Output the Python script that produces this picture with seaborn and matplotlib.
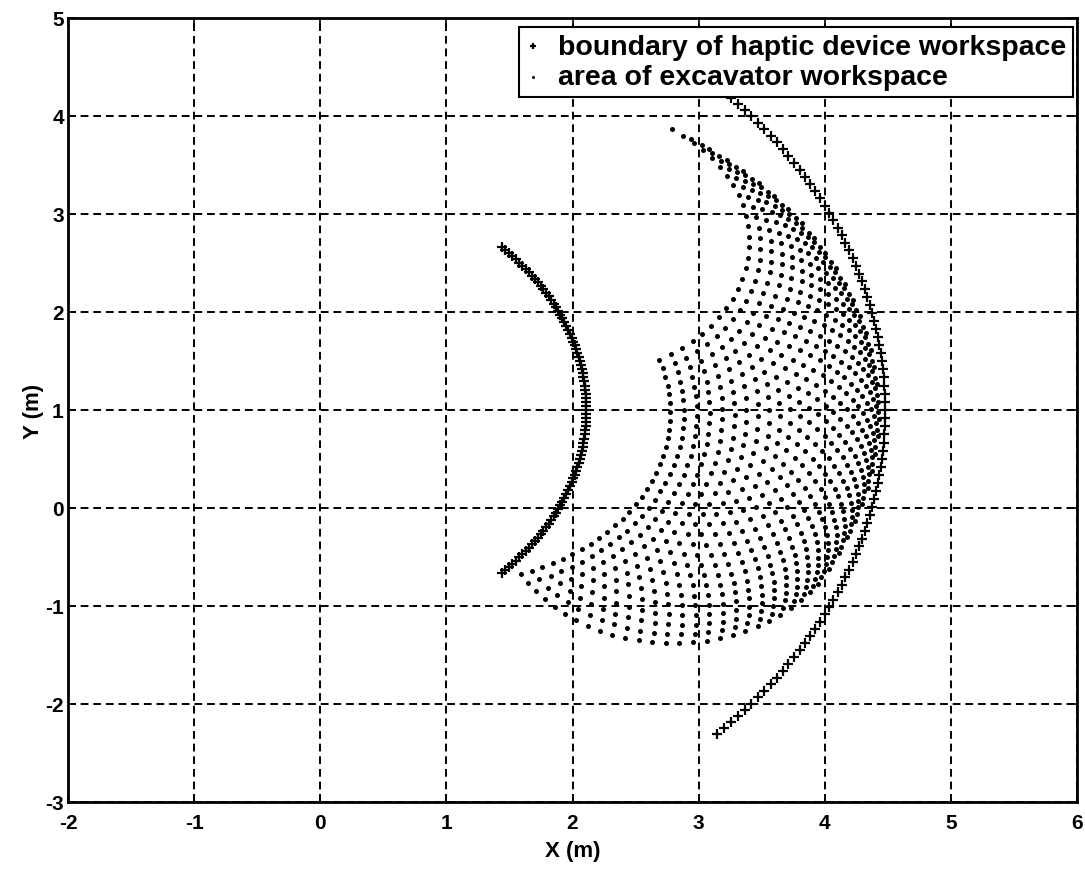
import numpy as np
import pandas as pd
import matplotlib
matplotlib.use("Agg")
import matplotlib.pyplot as plt
import seaborn as sns

# ---------------- data ----------------
# haptic device workspace boundary: two arcs about a common centre
haptic_center = (-0.28, 1.0)
haptic_inner_radius = 2.39
haptic_outer_radius = 4.76
haptic_angle_deg = [-44, -43, -42, -41, -40, -39, -38, -37, -36, -35, -34, -33,
                    -32, -31, -30, -29, -28, -27, -26, -25, -24, -23, -22, -21,
                    -20, -19, -18, -17, -16, -15, -14, -13, -12, -11, -10, -9,
                    -8, -7, -6, -5, -4, -3, -2, -1, 0, 1, 2, 3, 4, 5, 6, 7, 8,
                    9, 10, 11, 12, 13, 14, 15, 16, 17, 18, 19, 20, 21, 22, 23,
                    24, 25, 26, 27, 28, 29, 30, 31, 32, 33, 34, 35, 36, 37, 38,
                    39, 40, 41, 42, 43, 44]

# excavator workspace: bucket-tip grid over boom / arm joint angles
excavator_base = (1.05, 0.97)
boom_length = 2.0
arm_length = 1.38
boom_angle_deg = [-29, -26, -23, -20, -17, -14, -11, -8, -5, -2, 1, 4, 7, 10,
                  13, 16, 19, 22, 25, 28, 31, 34, 37, 40, 43, 46, 49, 52, 55,
                  58, 61]
arm_angle_deg = [-122, -117.5, -113, -108.5, -104, -99.5, -95, -90.5, -86,
                 -81.5, -77, -72.5, -68, -63.5, -59, -54.5, -50, -45.5, -41,
                 -36.5, -32, -27.5, -23, -18.5, -14, -9.5, -5]

x_ticks = [-2, -1, 0, 1, 2, 3, 4, 5, 6]
y_ticks = [-3, -2, -1, 0, 1, 2, 3, 4, 5]
series_labels = ["boundary of haptic device workspace",
                 "area of excavator workspace"]
x_label = "X (m)"
y_label = "Y (m)"

# ---------------- build tables ----------------
ang = np.radians(haptic_angle_deg)
hap_rows = []
for r in (haptic_inner_radius, haptic_outer_radius):
    hap_rows.append(pd.DataFrame({
        "x": haptic_center[0] + r * np.cos(ang),
        "y": haptic_center[1] + r * np.sin(ang)}))
hap = pd.concat(hap_rows, ignore_index=True)

t1, t2 = np.meshgrid(np.radians(boom_angle_deg), np.radians(arm_angle_deg))
exc = pd.DataFrame({
    "x": (excavator_base[0] + boom_length * np.cos(t1)
          + arm_length * np.cos(t1 + t2)).ravel(),
    "y": (excavator_base[1] + boom_length * np.sin(t1)
          + arm_length * np.sin(t1 + t2)).ravel()})

# ---------------- plot ----------------
sns.set_theme(style="white")
plt.rcParams["font.family"] = ["Liberation Sans", "DejaVu Sans"]
plt.rcParams["font.weight"] = "bold"
plt.rcParams["axes.unicode_minus"] = False
plt.rcParams["text.color"] = "black"
plt.rcParams["axes.labelcolor"] = "black"
plt.rcParams["xtick.color"] = "black"
plt.rcParams["ytick.color"] = "black"

fig = plt.figure(figsize=(10.85, 8.7), dpi=100)
ax = fig.add_axes([68 / 1085, (870 - 803) / 870, (1077 - 68) / 1085,
                   (803 - 19) / 870])

sns.scatterplot(data=hap, x="x", y="y", marker="+", s=50, color="black",
                linewidth=1.6, label=series_labels[0], ax=ax, zorder=3)
sns.scatterplot(data=exc, x="x", y="y", marker="o", s=13, color="black",
                linewidth=0, label=series_labels[1], ax=ax, zorder=3)

ax.set_xlim(x_ticks[0], x_ticks[-1])
ax.set_ylim(y_ticks[0], y_ticks[-1])
ax.set_xticks(x_ticks)
ax.set_yticks(y_ticks)
ax.set_axisbelow(True)
ax.grid(True, color="black", linestyle=(0, (4, 2.5)), linewidth=1.4)
for s in ax.spines.values():
    s.set_color("black")
    s.set_linewidth(2.0)
ax.tick_params(direction="in", length=6, width=1.2, labelsize=15,
               colors="black", bottom=True, left=True, top=True, right=True)
ax.tick_params(axis="x", pad=8)
ax.tick_params(axis="y", pad=3)
for lab in ax.get_xticklabels() + ax.get_yticklabels():
    lab.set_fontweight("bold")

ax.set_xlabel(x_label, fontsize=16, fontweight="bold", labelpad=6,
              color="black")
ax.set_ylabel(y_label, fontsize=16, fontweight="bold", labelpad=1,
              color="black")

leg = ax.legend(loc="upper right", bbox_to_anchor=(0.996, 0.989),
                frameon=True, fancybox=False, framealpha=1,
                edgecolor="black", fontsize=20.5, handlelength=0.5,
                handletextpad=0.6, borderpad=0.25, labelspacing=0.15,
                borderaxespad=0.0, markerscale=0.6)
leg.get_frame().set_linewidth(1.5)
leg.set_zorder(5)
for t in leg.get_texts():
    t.set_fontweight("bold")
    t.set_color("black")

fig.savefig("out.png", dpi=100, facecolor="white")
